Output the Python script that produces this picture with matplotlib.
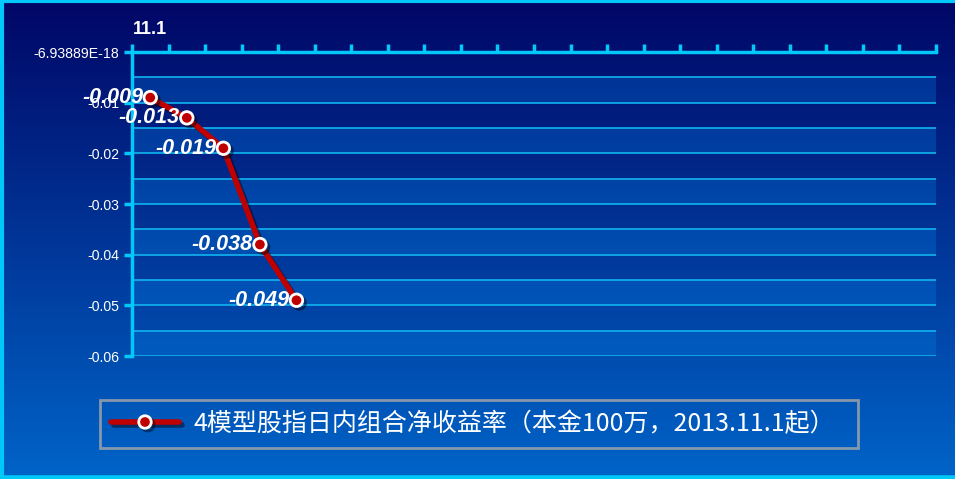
import matplotlib
matplotlib.use("Agg")
import matplotlib.pyplot as plt
import matplotlib.patheffects as pe
import numpy as np

# 数据
dates = ["11.1"] + [""] * 21
values = [-0.009, -0.013, -0.019, -0.038, -0.049]
value_labels = ["-0.009", "-0.013", "-0.019", "-0.038", "-0.049"]
ytick_vals = [0, -0.01, -0.02, -0.03, -0.04, -0.05, -0.06]
ytick_labels = ["-6.93889E-18", "-0.01", "-0.02", "-0.03", "-0.04", "-0.05", "-0.06"]
series_name = "4模型股指日内组合净收益率（本金100万，2013.11.1起）"

W, H = 955, 479
fig = plt.figure(figsize=(W / 100, H / 100), dpi=100)

# 背景渐变
bg = fig.add_axes([0, 0, 1, 1])
grad = np.linspace(0, 1, 256).reshape(-1, 1)
top = np.array([0, 6, 102]) / 255
bot = np.array([0, 100, 200]) / 255
img = top + (bot - top) * grad[:, :, None]
bg.imshow(img, aspect="auto", extent=[0, 1, 0, 1], origin="upper")
bg.set_xlim(0, 1)
bg.set_ylim(0, 1)
bg.axis("off")
cyan = "#00c8f8"
bg.plot([0, 0.998], [0.998, 0.998], color=cyan, lw=3)
bg.plot([0.002, 0.002], [0, 1], color=cyan, lw=3)
bg.plot([0, 1], [0.003, 0.003], color=cyan, lw=4)

ax = fig.add_axes([132 / W, 1 - 356 / H, (936 - 132) / W, (356 - 52) / H])
ax.patch.set_alpha(0)
n = len(dates)
ax.set_xlim(-0.5, n - 0.5)
ax.set_ylim(-0.06, 0)

# 条纹与网格
levels = np.round(np.arange(0, -0.0601, -0.005), 3)
for i in range(len(levels) - 1):
    if i % 2 == 1:
        ax.axhspan(levels[i + 1], levels[i], color=(0, 0.5, 0.9), alpha=0.3, lw=0)
for lv in levels[1:]:
    ax.axhline(lv, color="#10b4f0", lw=1.2)

x = np.arange(len(values))
ax.plot(x, values, color="#c00000", lw=4, marker="o", markersize=9,
        markerfacecolor="#c00000", markeredgecolor="white", markeredgewidth=2,
        solid_capstyle="round", zorder=5,
        path_effects=[pe.SimpleLineShadow(offset=(2, -2), alpha=0.45), pe.Normal()])
for xi, v, s in zip(x, values, value_labels):
    ax.annotate(s, (xi, v), xytext=(-5, 0), textcoords="offset points",
                ha="right", va="center", color="white", fontsize=15.5,
                fontweight="bold", fontstyle="italic", family="Liberation Sans", zorder=6)

# 坐标轴
for s in ["right", "bottom"]:
    ax.spines[s].set_visible(False)
for s in ["left", "top"]:
    ax.spines[s].set_color(cyan)
    ax.spines[s].set_linewidth(2.5)
ax.xaxis.tick_top()
ax.set_xticks(np.arange(n))
ax.set_xticklabels(dates, color="white", fontsize=13, fontweight="bold",
                   family="Liberation Sans")
ax.tick_params(axis="x", which="major", length=0, pad=10)
ax.set_xticks(np.arange(n + 1) - 0.5, minor=True)
ax.tick_params(axis="x", which="minor", direction="out", length=6, width=2.5,
               color=cyan, top=True, bottom=False)
ax.set_yticks(ytick_vals)
ax.set_yticklabels(ytick_labels, color="white", fontsize=10.2, family="Liberation Sans")
ax.tick_params(axis="y", direction="out", length=6, width=2.5, color=cyan, pad=3)

# 图例
leg = fig.legend(handles=ax.lines[-1:], labels=[series_name],
                 loc="lower left", bbox_to_anchor=(100 / W, 1 - 448 / H, (858 - 100) / W, 56 / H),
                 mode="expand", frameon=True, fancybox=False,
                 edgecolor="#a8a8a8", facecolor="none", handlelength=2.7, handletextpad=0.6,
                 borderpad=0.45, borderaxespad=0,
                 prop={"family": ["Noto Sans CJK SC", "DejaVu Sans"], "size": 18})
leg.get_frame().set_linewidth(2)
for t in leg.get_texts():
    t.set_color("white")

fig.savefig("out.png", dpi=100)
